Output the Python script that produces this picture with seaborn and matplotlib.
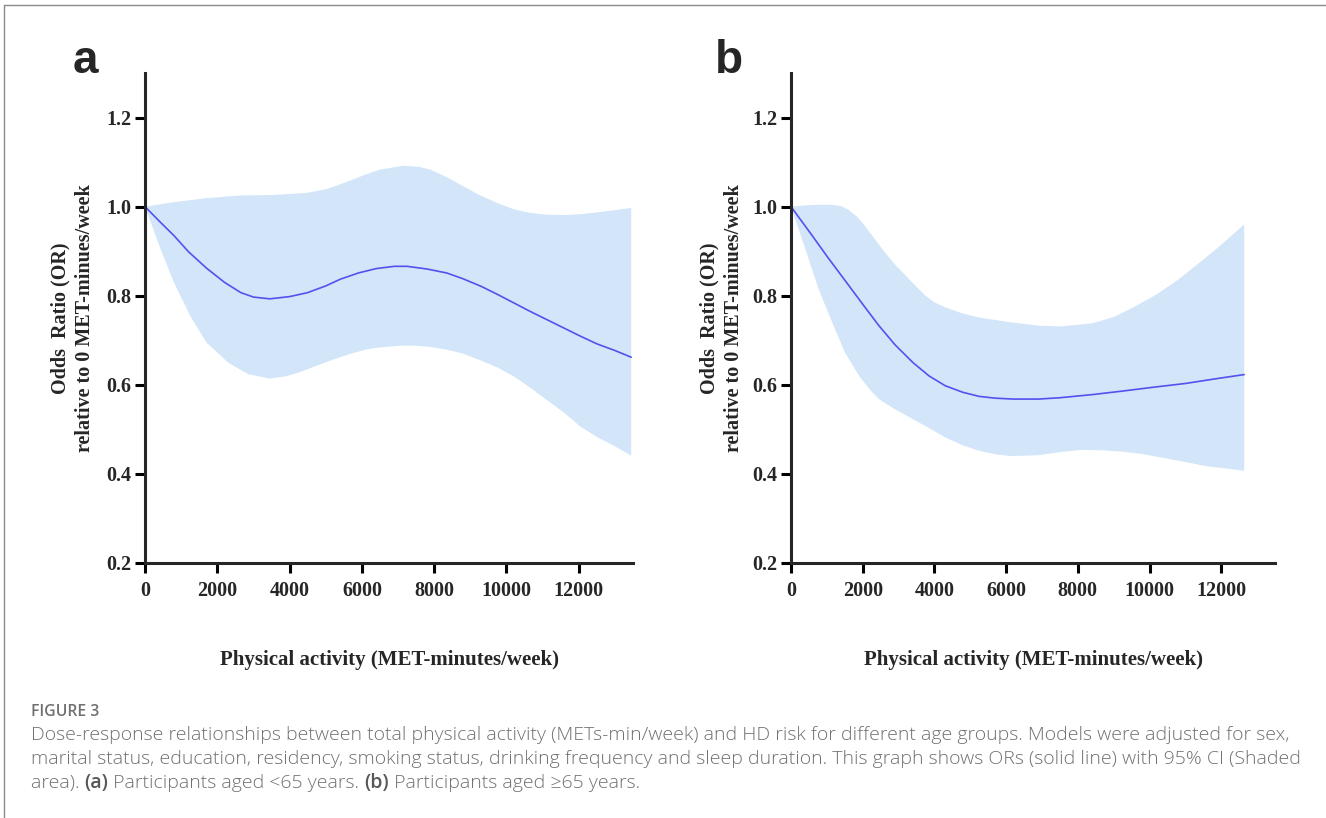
import numpy as np
import matplotlib
matplotlib.use("Agg")
import matplotlib.pyplot as plt
from matplotlib.lines import Line2D
import seaborn as sns
import pandas as pd

# ---- panel a: participants aged <65 ----
a_x = [0, 400, 800, 1200, 1700, 2200, 2650, 3000, 3450, 4000, 4500, 5000, 5400, 5900,
       6400, 6900, 7250, 7800, 8350, 8800, 9300, 9750, 10200, 10650, 11100, 11600,
       12050, 12500, 13000, 13450]
a_or = [1.000, 0.967, 0.935, 0.899, 0.862, 0.830, 0.807, 0.797, 0.793, 0.798, 0.807,
        0.822, 0.837, 0.851, 0.861, 0.866, 0.866, 0.860, 0.851, 0.838, 0.821, 0.803,
        0.784, 0.765, 0.747, 0.727, 0.709, 0.692, 0.677, 0.662]
a_up_x = [0, 800, 1700, 2650, 3550, 4500, 5050, 5600, 6100, 6500, 7150, 7600, 7900,
          8400, 8800, 9250, 9750, 10200, 10650, 11100, 11600, 12050, 12500, 13000, 13450]
a_up = [1.000, 1.010, 1.019, 1.025, 1.026, 1.031, 1.040, 1.056, 1.072, 1.083, 1.092,
        1.089, 1.083, 1.064, 1.046, 1.026, 1.008, 0.994, 0.986, 0.982, 0.981, 0.983,
        0.987, 0.992, 0.997]
a_lo_x = [0, 430, 800, 1250, 1700, 2300, 2850, 3450, 3900, 4300, 4750, 5250, 5700,
          6150, 6500, 7100, 7450, 7900, 8350, 8800, 9250, 9750, 10200, 10650, 11100,
          11600, 12050, 12500, 13000, 13450]
a_lo = [1.000, 0.905, 0.830, 0.755, 0.695, 0.650, 0.624, 0.614, 0.619, 0.629, 0.643,
        0.658, 0.670, 0.680, 0.684, 0.688, 0.688, 0.685, 0.679, 0.670, 0.656, 0.639,
        0.619, 0.594, 0.567, 0.537, 0.506, 0.483, 0.462, 0.441]

# ---- panel b: participants aged >=65 ----
b_x = [0, 600, 1000, 1500, 2000, 2450, 2900, 3400, 3850, 4300, 4800, 5250, 5700, 6200,
       6900, 7500, 8400, 9250, 10150, 11000, 11800, 12640]
b_or = [1.000, 0.934, 0.889, 0.835, 0.781, 0.733, 0.690, 0.650, 0.620, 0.598, 0.583,
        0.574, 0.570, 0.568, 0.568, 0.571, 0.578, 0.586, 0.595, 0.603, 0.613, 0.623]
b_up_x = [0, 600, 1150, 1400, 1600, 1850, 2050, 2350, 2600, 2900, 3200, 3500, 3750,
          4000, 4300, 4750, 5250, 6150, 6900, 7500, 8400, 9000, 9600, 10200, 10800,
          11300, 11850, 12250, 12640]
b_up = [1.000, 1.004, 1.004, 1.001, 0.993, 0.977, 0.958, 0.926, 0.899, 0.870, 0.845,
        0.820, 0.800, 0.785, 0.774, 0.761, 0.751, 0.740, 0.733, 0.731, 0.738, 0.752,
        0.776, 0.803, 0.836, 0.868, 0.904, 0.932, 0.960]
b_lo_x = [0, 400, 770, 1150, 1500, 1900, 2200, 2450, 2900, 3400, 3850, 4300, 4800,
          5250, 5700, 6150, 6900, 7500, 8100, 8700, 9250, 9850, 10450, 11050, 11600,
          12150, 12640]
b_lo = [1.000, 0.905, 0.815, 0.740, 0.673, 0.620, 0.589, 0.568, 0.545, 0.523, 0.503,
        0.482, 0.464, 0.452, 0.444, 0.440, 0.442, 0.449, 0.454, 0.453, 0.450, 0.444,
        0.435, 0.426, 0.417, 0.412, 0.407]

x_ticks = [0, 2000, 4000, 6000, 8000, 10000, 12000]
x_labels = ["0", "2000", "4000", "6000", "8000", "10000", "12000"]
y_ticks = [0.2, 0.4, 0.6, 0.8, 1.0, 1.2]
y_labels = ["0.2", "0.4", "0.6", "0.8", "1.0", "1.2"]

line_color = "#5252ee"
band_color = "#d2e5f9"

sns.set_style("ticks")
plt.rcParams["font.family"] = ["Liberation Serif", "DejaVu Serif"]
plt.rcParams["font.weight"] = "bold"

fig = plt.figure(figsize=(13.26, 8.18), dpi=100)
ax_a = fig.add_axes([145 / 1326, 1 - 563 / 818, 488 / 1326, 490 / 818])
ax_b = fig.add_axes([791 / 1326, 1 - 563 / 818, 484 / 1326, 490 / 818])


def draw_panel(ax, x, ors, up_x, up, lo_x, lo, ylab_x):
    band_x = np.concatenate([up_x, lo_x[::-1]])
    band_y = np.concatenate([up, lo[::-1]])
    ax.fill(band_x, band_y, color=band_color, lw=0, zorder=1)
    df = pd.DataFrame({"pa": x, "or": ors})
    sns.lineplot(data=df, x="pa", y="or", ax=ax, color=line_color, lw=1.2, zorder=2)
    ax.set_xlim(0, 13500)
    ax.set_ylim(0.2, 1.3)
    ax.set_xticks(x_ticks)
    ax.set_xticklabels(x_labels)
    ax.set_yticks(y_ticks)
    ax.set_yticklabels(y_labels)
    sns.despine(ax=ax)
    for s in ["left", "bottom"]:
        ax.spines[s].set_linewidth(2.2)
    ax.tick_params(direction="out", length=7, width=2.2, labelsize=14.5, pad=3,
                   color="black")
    ax.tick_params(axis="x", pad=6)
    ax.set_xlabel("Physical activity (MET-minutes/week)", fontsize=15,
                  fontweight="bold", labelpad=35)
    ax.set_ylabel("Odds  Ratio (OR)\nrelative to 0 MET-minues/week", fontsize=14.5,
                  fontweight="bold", linespacing=1.3)
    ax.yaxis.set_label_coords(ylab_x, 0.5)


draw_panel(ax_a, a_x, a_or, a_up_x, a_up, a_lo_x, a_lo, -0.102)
draw_panel(ax_b, b_x, b_or, b_up_x, b_up, b_lo_x, b_lo, -0.098)

# panel letters
fig.text(73 / 1326, 1 - 73 / 818, "a", family="Liberation Sans", fontweight="bold",
         fontsize=33, ha="left", va="baseline")
fig.text(715 / 1326, 1 - 73 / 818, "b", family="Liberation Sans", fontweight="bold",
         fontsize=33, ha="left", va="baseline")

# page border
fig.add_artist(Line2D([4 / 1326, 4 / 1326], [0, 1 - 5 / 818], transform=fig.transFigure,
                      color="#8a8a8a", lw=1))
fig.add_artist(Line2D([4 / 1326, 1], [1 - 5 / 818, 1 - 5 / 818], transform=fig.transFigure,
                      color="#8a8a8a", lw=1))

# caption
cap_font = ["Open Sans", "DejaVu Sans"]
cap_color = "#707070"
cap_size = 14.0
fig.text(31 / 1326, 1 - 712 / 818, "FIGURE 3", family=cap_font, fontsize=11.3,
         fontweight="semibold", color=cap_color, va="center")
cap_lines = [
    "Dose-response relationships between total physical activity (METs-min/week) and HD risk for different age groups. Models were adjusted for sex,",
    "marital status, education, residency, smoking status, drinking frequency and sleep duration. This graph shows ORs (solid line) with 95% CI (Shaded",
]
for i, line in enumerate(cap_lines):
    fig.text(31 / 1326, 1 - (735 + 24 * i) / 818, line, family=cap_font, fontsize=cap_size,
             fontweight="light", color=cap_color, va="center")

pieces = [("area). ", "light"), ("(a)", "semibold"),
          (" Participants aged <65 years. ", "light"), ("(b)", "semibold"),
          (" Participants aged \u226565 years.", "light")]
fig.canvas.draw()
renderer = fig.canvas.get_renderer()
x0 = 31
for txt, w in pieces:
    t = fig.text(x0 / 1326, 1 - 783 / 818, txt, family=cap_font, fontsize=cap_size,
                 fontweight=w, color=cap_color if w == "light" else "#585858",
                 va="center")
    bb = t.get_window_extent(renderer=renderer)
    x0 += bb.width

fig.savefig("out.png", dpi=100)
